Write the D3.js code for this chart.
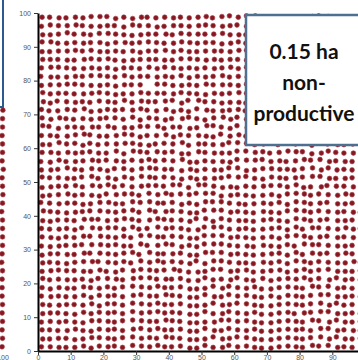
<!DOCTYPE html>
<html><head><meta charset="utf-8">
<script src="https://cdn.jsdelivr.net/npm/d3@7"></script>
<style>html,body{margin:0;padding:0;background:#fff;overflow:hidden}</style>
</head><body>
<svg id="c" width="358" height="360"></svg>
<script>
// Plant rows (m) from top to bottom and columns (m) from left to right
const rowsY = [98.75,96.25,93.75,91.25,88.75,86.25,83.75,81.25,78.75,76.25,73.75,71.25,68.75,66.25,63.75,61.25,58.75,56.25,53.75,51.25,48.75,46.25,43.75,41.25,38.75,36.25,33.75,31.25,28.75,26.25,23.75,21.25,18.75,16.25,13.75,11.25,8.75,6.25,3.75,1.25];
const colsX = [1.25,3.75,6.25,8.75,11.25,13.75,16.25,18.75,21.25,23.75,26.25,28.75,31.25,33.75,36.25,38.75,41.25,43.75,46.25,48.75,51.25,53.75,56.25,58.75,61.25,63.75,66.25,68.75,71.25,73.75,76.25,78.75,81.25,83.75,86.25,88.75,91.25,93.75,96.25,98.75];
// Estimated placement offsets of each plant (letter a..y = 5x5 offset cell, '.' = missing plant)
const jitterRows = [
"mhqgrlnsikmpwcgmqhlrsbnjmotgkqlmhsenmrgk",
"gnmrxhlqmckshmpgrmlwnhqmdlsgmkrmhnqlgsmp",
"qlmthrgnsmlkqmhwgnmrhmslqgmnkrgmqhlnsmrh",
"nsglmqhrkmwlhnmgqsrlmhkqnglmvshrmglqnsmk",
"lgmrshnqlmgrkmhsqnlgmrhlsnqgmklqmhgrsnml",
"rmhqgwnmsgkqmrhlgnsmqrgmhlnksqmgrhlmnqsg",
"hsnmgqrlmkmhgsqnrlmghqmslnrkgmhqsmlgnrqm",
"cqglrhnsmgslmhqrgnkmlhsgmqnrlmgshqnmlrgk",
"gmrsnhlqmkrhm.snlqmgshrmlnqgkmhrslgmqnhr",
"slmhgqrnmkglsmrhqnmgkrlhsmqgnmlrhsgqmnlk",
"wkdmqhbnrgtlxmcsjpeyhmklqfngrvobmitdslhu",
"ibgsmykqnhdrtclxpmfjwgqhnbeslrmdkoytgimq",
"nqxhbmlrdigtksmpcwjhfnyqelbsmorgkdtvhimn",
"tdkrmgwhsbqlnixfmcpgyjhkeqtsmbndlrogvkmh",
"hmbqsydlgrtnkcmxpihwqfelsgnjdrbmtokvqyhm",
"qgtmnkdbhrxslpcimyfwhgqejnlrtbsmdkohvgmq",
"mrlwqhdgbtkyncsmipfxhqlgejrnbmtsdkvohgqm",
"bksgqmxhdrlnwtcimypfhgqkensjlrbmtdovhqgm",
"gqhtmbsrkdnlxyimcpwfhqgejklnsrmbdtvoqhgm",
"nhmqgdtbrkslyxcimpwfgqhenjlksrbmdtovgqhm",
"kqmhsgxrtbdlwnicoefyjmpqahgrnsltkbvdmhqx",
"pgmxlhqkdrsnbtwycimeojfqhgalrkntsbdmvxhq",
"dhqrmkgsxlbtnywcipmfoejhqagrlnktsbmdvqhx",
"xmgkqhdsrlntbycwimpfeojqhgarlkntsbdmvhqg",
"qkhmgxsdlrtnbwyicmpeofjhqgarnlktsbmdvqhx",
"hgqmkdxrsnltbcywimfpeojgqhalrnktbsdmvxqh",
"mqkhgsdxrlnbtywcimpfejoqhgalrkntsbmdvhqx",
"gkqhmdsxrnlbtcwyipmfeojhgqarlknbtsdmvqhx",
"kmhqgxdsrlntbywcmipfoejqhgalrnktbsmdvxhq",
"qhgkmsxdrlnbtwycimpefojhqgarlnktsbdmvqxh",
"lrnmhqgsbkdwtxmiycfpgjeqhnalmskrtbdovqgh",
"sgmqlhkdnrbxtymwcifpjghqelankmsrtbdvoqhg",
"mkrqgshlnbdtxwymcipfgjqehlnakmsrbtdovhgq",
"hqmglsknrdbxtwmyicpfjqgehnlamksrbdtovqhg",
"rgqmhlskndbtxwymcipfgjqhenlakmsrbdtvoghq",
"qmhgkslnrdbtwxymicpfjgqehlnakmsbrdtovqhg",
"gmqhlksnrbdtxwmyicpfgqjehnlakmsrbtdvoqgh",
"mhgqslknrdbxtwymcipfjqgehlnakmsrdbtovhqg",
"qgmhklsnrbdtwxmyicpfgjqhenlakmsrbdtvoqgh",
"hmqglsknrdbtxwymcipfjgqehnlakmsrbtdovhgq"
];
const xTicks = [0,10,20,30,40,50,60,70,80,90];
const yTicks = [0,10,20,30,40,50,60,70,80,90,100];
// Neighbouring panel (left, cropped): its last plant column rows visible below its label box
const leftPanelRowsY = [71.25,68.75,66.25,63.75,61.25,58.75,56.25,53.75,51.25,48.75,46.25,43.75,41.25,38.75,36.25,33.75,31.25,28.75,26.25,23.75,21.25,18.75,16.25,13.75,11.25,8.75,6.25,3.75,1.25];
const labelLines = ["0.15 ha","non-","productive"];

const svg = d3.select("#c");
const x = d3.scaleLinear().domain([0,100]).range([38,365]);
const y = d3.scaleLinear().domain([0,100]).range([351,13]);
const step = 0.2;

const pts = [];
rowsY.forEach((ry,ri)=>{
  const s = jitterRows[ri];
  colsX.forEach((cx,ci)=>{
    const ch = s.charAt(ci) || "m";
    if (ch === ".") return;
    const k = ch.charCodeAt(0) - 97;
    const dxi = Math.floor(k/5), dyi = k%5;
    pts.push({x: cx + (dxi-2)*step, y: ry + (dyi-2)*step});
  });
});

const dotFill = "#861822";
svg.append("g").selectAll("circle").data(pts).join("circle")
  .attr("cx", d=>x(d.x)).attr("cy", d=>y(d.y)).attr("r", 2.4)
  .attr("fill", dotFill).attr("stroke","#a8434c").attr("stroke-width",0.6);

// left cropped panel
svg.append("g").selectAll("circle").data(leftPanelRowsY).join("circle")
  .attr("cx", (d,i)=> 2.5 + ((jitterRows[i+11].charCodeAt(3)-97)%5-2)*0.4)
  .attr("cy", d=>y(d)).attr("r",2.4)
  .attr("fill", dotFill).attr("stroke","#a8434c").attr("stroke-width",0.6);
svg.append("rect").attr("x",-20).attr("y",-2).attr("width",23).attr("height",109)
  .attr("fill","#fff").attr("stroke","#2b5a8e").attr("stroke-width",2);
svg.append("text").attr("x",3).attr("y",360).attr("text-anchor","middle")
  .attr("font-family","Liberation Sans, Arial, sans-serif").attr("font-size",7).attr("fill","#555").text("100");

// axes
const ax = svg.append("g").attr("transform",`translate(0,${y(0)})`)
  .call(d3.axisBottom(x).tickValues(xTicks).tickSize(4).tickSizeOuter(0).tickPadding(0));
const ay = svg.append("g").attr("transform",`translate(${x(0)},0)`)
  .call(d3.axisLeft(y).tickValues(yTicks).tickSize(4).tickSizeOuter(0).tickPadding(3));
[ax,ay].forEach(g=>{
  g.select(".domain").attr("stroke","#000").attr("stroke-width",2);
  g.selectAll(".tick line").attr("stroke","#333").attr("stroke-width",1);
  g.selectAll(".tick text").attr("font-family","Liberation Sans, Arial, sans-serif")
    .attr("font-size",7).attr("fill","#555");
});

// label box
svg.append("rect").attr("x",246).attr("y",15).attr("width",125).attr("height",130)
  .attr("fill","#fff").attr("stroke","#4e7090").attr("stroke-width",2.5);
svg.append("g").selectAll("text").data(labelLines).join("text")
  .attr("x",304).attr("y",(d,i)=>59+i*31).attr("text-anchor","middle")
  .attr("font-family","Lato, 'Open Sans', sans-serif").attr("font-weight","bold")
  .attr("font-size",21).attr("fill","#111").text(d=>d);
</script>
</body></html>
